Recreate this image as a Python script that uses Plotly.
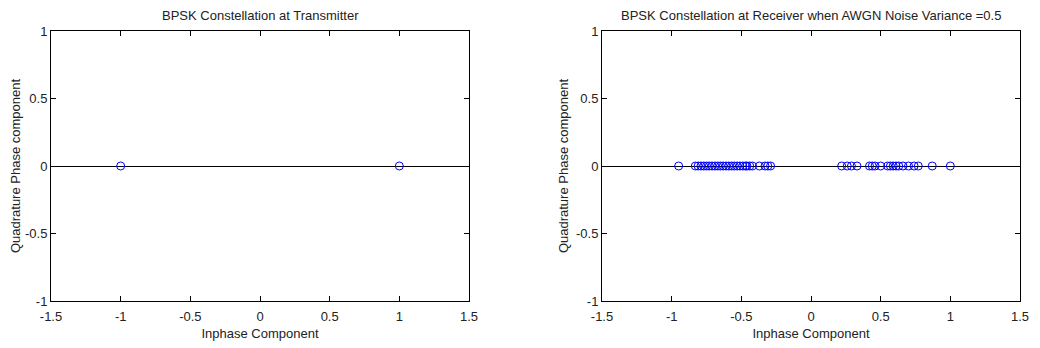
import plotly.graph_objects as go

# Data
tx_inphase = [-1.0, 1.0]
tx_quadrature = [0.0, 0.0]

rx_inphase = [-0.95, -0.83, -0.81, -0.79, -0.77, -0.75, -0.73, -0.71, -0.69, -0.67,
              -0.65, -0.63, -0.61, -0.59, -0.57, -0.55, -0.53, -0.51, -0.49, -0.47,
              -0.46, -0.44, -0.42, -0.37, -0.33, -0.31, -0.29,
              0.22, 0.26, 0.29, 0.33, 0.42, 0.44, 0.46, 0.5, 0.55, 0.57, 0.59, 0.61,
              0.63, 0.66, 0.7, 0.74, 0.77, 0.87, 1.0]
rx_quadrature = [0.0] * len(rx_inphase)

x_ticks = [-1.5, -1, -0.5, 0, 0.5, 1, 1.5]
x_ticktext = ["-1.5", "-1", "-0.5", "0", "0.5", "1", "1.5"]
y_ticks = [-1, -0.5, 0, 0.5, 1]
y_ticktext = ["-1", "-0.5", "0", "0.5", "1"]

titles = ["BPSK Constellation at Transmitter",
          "BPSK Constellation at Receiver when AWGN Noise Variance =0.5"]

fig = go.Figure()
font = dict(family="Liberation Sans, Arial, sans-serif", size=13, color="#222")

marker = dict(symbol="circle-open", size=8, color="#0000ff", line=dict(width=1))
fig.add_trace(go.Scatter(x=tx_inphase, y=tx_quadrature, mode="markers",
                         marker=marker, xaxis="x", yaxis="y", showlegend=False))
fig.add_trace(go.Scatter(x=rx_inphase, y=rx_quadrature, mode="markers",
                         marker=marker, xaxis="x2", yaxis="y2", showlegend=False))

common_x = dict(range=[-1.5, 1.5], tickvals=x_ticks, ticktext=x_ticktext,
                ticks="inside", ticklen=5, tickcolor="black", showline=True,
                linecolor="black", linewidth=1, mirror="ticks", showgrid=False,
                zeroline=False, tickfont=font, automargin=False, ticklabelstandoff=3,
                title=dict(text="Inphase Component", font=font, standoff=6))
common_y = dict(range=[-1, 1], tickvals=y_ticks, ticktext=y_ticktext,
                ticks="inside", ticklen=5, tickcolor="black", showline=True,
                linecolor="black", linewidth=1, mirror="ticks", showgrid=False,
                zeroline=True, zerolinecolor="black", zerolinewidth=1, tickfont=font,
                automargin=False,
                title=dict(text="Quadrature Phase component", font=font, standoff=4))

# page has an 8px body margin, so positions are shifted by -8
off = 8
W, H = 1040, 348
y_dom = [(H - 301 + off) / H, (H - 31 + off) / H]
fig.update_layout(
    width=W, height=H,
    margin=dict(l=0, r=0, t=0, b=0),
    plot_bgcolor="white", paper_bgcolor="white",
    xaxis=dict(domain=[(51 - off) / W, (469 - off) / W], anchor="y", **common_x),
    yaxis=dict(domain=y_dom, anchor="x", **common_y),
    xaxis2=dict(domain=[(602 - off) / W, (1020 - off) / W], anchor="y2", **common_x),
    yaxis2=dict(domain=y_dom, anchor="x2", **common_y),
    annotations=[
        dict(text=titles[0], x=((51 + 469) / 2 - off) / W, y=1, xref="paper", yref="paper",
             showarrow=False, font=font, xanchor="center", yanchor="top", yshift=2),
        dict(text=titles[1], x=((602 + 1020) / 2 - off) / W, y=1, xref="paper", yref="paper",
             showarrow=False, font=font, xanchor="center", yanchor="top", yshift=2),
    ],
)

fig.write_html("out.html")
